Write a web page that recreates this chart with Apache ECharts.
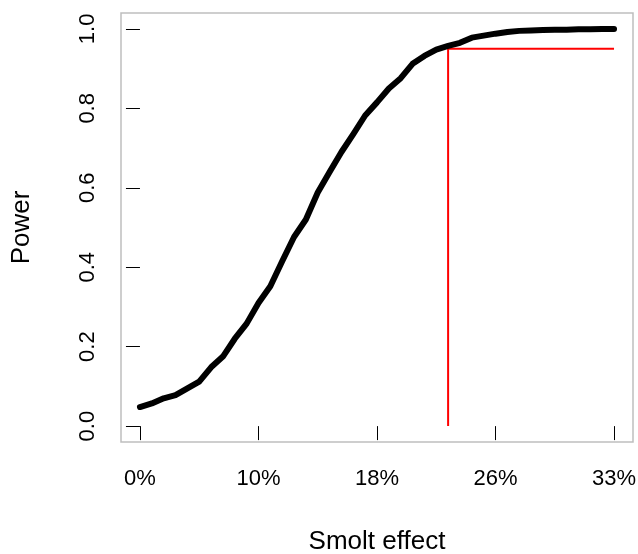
<!DOCTYPE html>
<html>
<head>
<meta charset="utf-8">
<script src="https://cdn.jsdelivr.net/npm/echarts@6/dist/echarts.min.js"></script>
<style>
  html, body { margin: 0; padding: 0; background: #fff; }
  #main { width: 638px; height: 554px; }
</style>
</head>
<body>
<div id="main"></div>
<script>
// power curve, one value per step of smolt effect (41 steps)
const power = [
  0.048, 0.057, 0.070, 0.078, 0.095, 0.112, 0.148, 0.175, 0.220, 0.258,
  0.310, 0.352, 0.415, 0.476, 0.520, 0.588, 0.640, 0.690, 0.735, 0.782,
  0.815, 0.850, 0.876, 0.912, 0.932, 0.948, 0.957, 0.965, 0.978, 0.983,
  0.988, 0.992, 0.995, 0.996, 0.997, 0.998, 0.998, 0.999, 0.999, 1.000,
  1.000
]
const xTickSteps = [0, 10, 20, 30, 40]
const xTickLabels = ['0%', '10%', '18%', '26%', '33%']
const yTicks = [0, 0.2, 0.4, 0.6, 0.8, 1.0]

// red marker: first step that reaches 95% power
const targetPower = 0.95
const targetStep = 26

const font = 'Liberation Sans, Arial, Helvetica, sans-serif'
const lastStep = power.length - 1

const curve = power.map((v, i) => [i, v])
const marker = [[targetStep, 0], [targetStep, targetPower], [lastStep, targetPower]]

const chart = echarts.init(document.getElementById('main'), null, { renderer: 'canvas' })

chart.setOption({
  backgroundColor: '#ffffff',
  animation: false,
  grid: {
    left: 121,
    right: 5,
    top: 13,
    bottom: 112,
    outerBoundsMode: 'none',
    containLabel: false,
    show: true,
    borderColor: '#bebebe',
    borderWidth: 1.5,
    backgroundColor: 'transparent'
  },
  xAxis: {
    type: 'value',
    min: -0.04 * lastStep,
    max: lastStep * 1.04,
    name: 'Smolt effect',
    nameLocation: 'middle',
    nameGap: 87,
    nameTextStyle: { fontFamily: font, fontSize: 26, color: '#000' },
    axisLine: { show: false },
    splitLine: { show: false },
    axisTick: {
      show: true,
      length: 14,
      customValues: xTickSteps,
      lineStyle: { color: '#000', width: 1 }
    },
    axisLabel: {
      customValues: xTickSteps,
      margin: 26,
      fontFamily: font,
      fontSize: 22,
      color: '#000',
      formatter: function (v) {
        return xTickLabels[xTickSteps.indexOf(Math.round(v))]
      }
    }
  },
  yAxis: {
    type: 'value',
    min: -0.04,
    max: 1.04,
    name: 'Power',
    nameLocation: 'middle',
    nameGap: 86,
    nameTextStyle: { fontFamily: font, fontSize: 26, color: '#000' },
    axisLine: { show: false },
    splitLine: { show: false },
    axisTick: {
      show: true,
      length: 14,
      customValues: yTicks,
      lineStyle: { color: '#000', width: 1 }
    },
    axisLabel: {
      customValues: yTicks,
      rotate: 90,
      margin: 22,
      fontFamily: font,
      fontSize: 22,
      color: '#000',
      formatter: function (v) {
        return v.toFixed(1)
      }
    }
  },
  series: [
    {
      name: 'Power',
      type: 'line',
      data: curve,
      showSymbol: false,
      lineStyle: { color: '#000', width: 6, cap: 'round', join: 'round' },
      z: 3
    },
    {
      name: '95% power',
      type: 'line',
      data: marker,
      showSymbol: false,
      lineStyle: { color: '#ff0000', width: 2 },
      z: 2
    }
  ]
})
</script>
</body>
</html>
